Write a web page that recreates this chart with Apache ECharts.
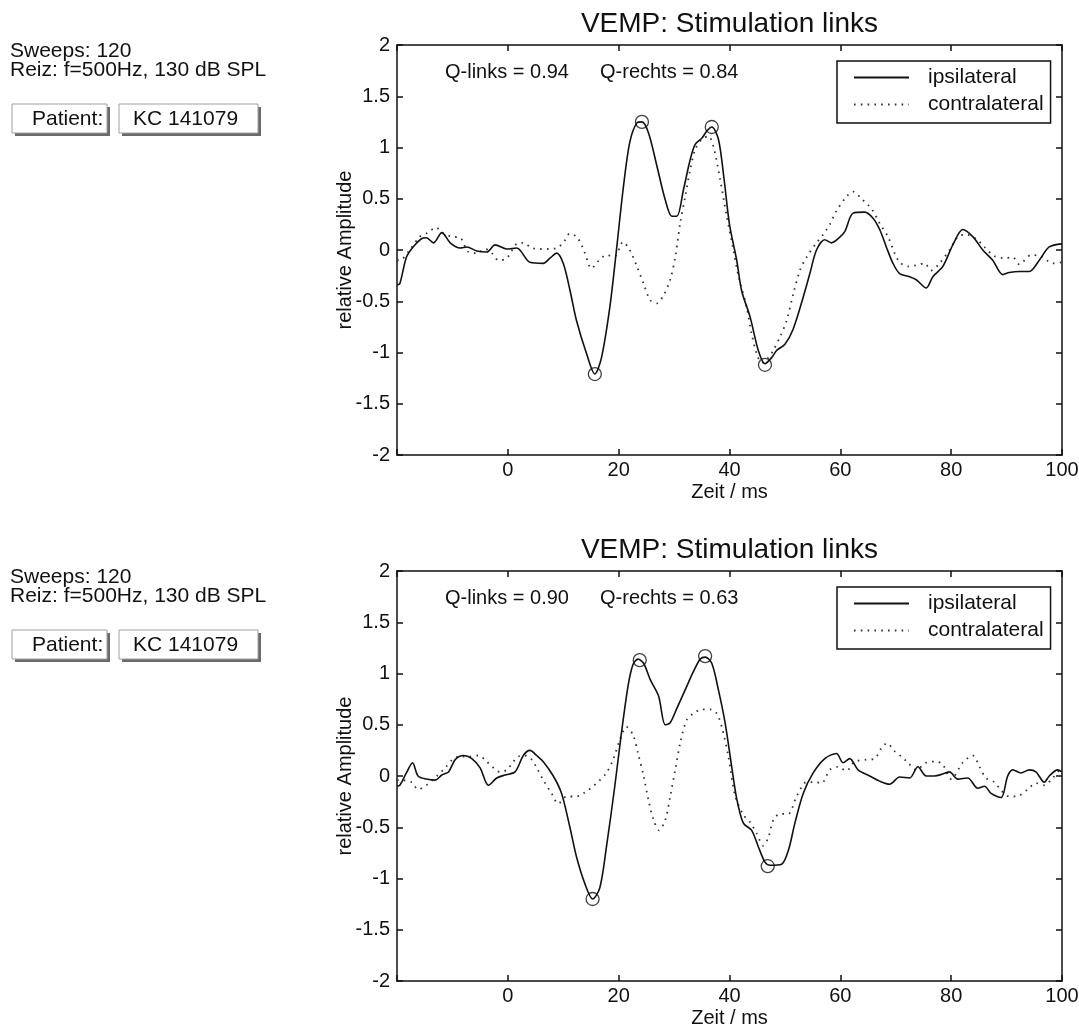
<!DOCTYPE html>
<html><head><meta charset="utf-8">
<script src="https://cdn.jsdelivr.net/npm/echarts@6/dist/echarts.min.js"></script>
<style>html,body{margin:0;padding:0;background:#fff;}#c{width:1079px;height:1030px;}</style>
</head><body><div id="c"></div>
<script>
// ---- data (x = Zeit / ms, y = relative Amplitude) ----
const topIpsi = [[-20,-0.34],[-19.5,-0.33],[-18.3,-0.07],[-17.1,0.03],[-15.6,0.11],[-14.7,0.12],[-13.4,0.07],[-11.9,0.17],[-10.4,0.07],[-8.6,0.02],[-7.4,0.03],[-5.6,-0.01],[-3.8,-0.02],[-2.3,0.05],[-0.2,0.01],[1.6,0.02],[4.0,-0.12],[6.4,-0.13],[7.6,-0.08],[8.8,-0.03],[10.0,-0.13],[11.2,-0.39],[12.4,-0.69],[14.2,-1.01],[15.7,-1.21],[16.9,-1.05],[18.4,-0.56],[19.6,0.0],[20.8,0.59],[22.0,1.05],[23.3,1.24],[24.2,1.25],[25.4,1.14],[26.9,0.82],[28.4,0.49],[29.6,0.33],[30.5,0.33],[31.7,0.59],[32.9,0.88],[33.8,1.03],[35.0,1.09],[35.9,1.16],[36.8,1.2],[38.0,1.08],[39.0,0.7],[40.0,0.25],[41.3,-0.1],[42.2,-0.4],[43.7,-0.65],[45.2,-0.98],[46.4,-1.11],[47.6,-1.05],[48.5,-0.98],[50.0,-0.92],[51.5,-0.77],[53.3,-0.46],[54.5,-0.23],[55.7,0.0],[57.2,0.1],[58.4,0.07],[59.6,0.11],[60.8,0.18],[62.3,0.36],[64.4,0.37],[65.9,0.31],[67.1,0.2],[68.3,0.03],[69.5,-0.13],[70.7,-0.23],[72.5,-0.26],[73.7,-0.29],[75.5,-0.37],[76.7,-0.26],[78.5,-0.16],[80.3,0.05],[82.1,0.2],[83.9,0.13],[85.7,0.0],[87.5,-0.1],[89.3,-0.24],[90.5,-0.22],[92.3,-0.21],[94.1,-0.21],[95.9,-0.1],[97.7,0.03],[100,0.06]];
const topContra = [[-20,-0.1],[-19.5,-0.1],[-17.7,0.0],[-15.9,0.13],[-14.4,0.17],[-13.0,0.22],[-11.6,0.16],[-10.1,0.13],[-8.6,0.12],[-7.1,-0.02],[-5.6,-0.03],[-4.1,0.01],[-2.9,-0.03],[-1.7,-0.1],[-0.2,-0.08],[1.6,0.06],[2.8,0.07],[4.3,0.02],[5.8,0.01],[7.3,0.01],[8.8,0.02],[10.0,0.07],[11.2,0.16],[12.4,0.13],[13.3,0.05],[13.9,-0.03],[15.1,-0.18],[16.3,-0.11],[17.8,-0.05],[19.3,-0.06],[20.8,0.08],[22.0,0.0],[23.3,-0.16],[24.5,-0.33],[25.7,-0.49],[26.9,-0.52],[28.1,-0.44],[29.3,-0.29],[30.2,-0.07],[31.1,0.26],[32.0,0.52],[32.9,0.78],[33.8,0.98],[35.0,1.08],[36.2,1.11],[37.1,1.01],[38.3,0.69],[39.5,0.33],[40.7,0.0],[41.6,-0.25],[43.1,-0.56],[44.0,-0.82],[44.9,-1.01],[45.8,-1.1],[47.0,-1.05],[47.9,-0.98],[49.1,-0.85],[50.3,-0.69],[51.5,-0.43],[52.7,-0.2],[53.9,-0.07],[55.7,0.07],[56.9,0.15],[58.1,0.25],[59.3,0.38],[61.1,0.52],[62.3,0.57],[63.8,0.5],[65.0,0.44],[65.9,0.38],[67.1,0.26],[68.6,0.13],[69.8,-0.03],[70.7,-0.12],[72.2,-0.16],[73.7,-0.15],[75.2,-0.13],[76.4,-0.2],[77.9,-0.13],[79.7,0.0],[81.2,0.13],[82.7,0.15],[84.5,0.11],[86.0,0.03],[87.8,-0.06],[89.6,-0.08],[91.1,-0.07],[92.3,-0.14],[94.4,-0.05],[96.2,-0.06],[98.3,-0.13],[100,-0.12]];
const topPeaks = [[15.7,-1.21],[24.2,1.25],[36.8,1.2],[46.4,-1.12]];

const botIpsi = [[-20,-0.1],[-19.5,-0.09],[-18.3,0.03],[-17.2,0.13],[-16.2,0.0],[-14.7,-0.03],[-13.1,-0.04],[-11.9,0.01],[-10.7,0.04],[-9.5,0.16],[-8.0,0.2],[-6.5,0.17],[-5.0,0.08],[-3.5,-0.09],[-2.0,-0.02],[-0.5,0.01],[1.3,0.04],[2.8,0.2],[4.0,0.25],[5.2,0.2],[6.4,0.14],[8.2,0.0],[9.7,-0.17],[11.2,-0.5],[12.4,-0.79],[13.9,-1.05],[15.3,-1.2],[16.6,-1.09],[17.8,-0.69],[19.3,-0.1],[20.5,0.42],[21.7,0.88],[22.6,1.09],[23.5,1.14],[24.5,1.1],[25.7,0.94],[27.2,0.78],[28.4,0.5],[29.3,0.52],[30.5,0.66],[32.0,0.84],[33.5,1.02],[34.7,1.14],[35.6,1.16],[36.8,1.1],[38.0,0.84],[39.2,0.52],[40.4,0.09],[41.3,-0.22],[42.5,-0.46],[44.0,-0.53],[45.2,-0.69],[46.4,-0.84],[47.3,-0.87],[49.4,-0.86],[50.6,-0.73],[51.8,-0.46],[53.3,-0.17],[55.1,0.03],[57.2,0.17],[59.3,0.22],[60.5,0.13],[61.7,0.17],[63.2,0.06],[65.3,0.0],[67.1,-0.05],[68.9,-0.08],[70.7,-0.01],[72.5,-0.02],[74.0,0.09],[75.5,0.0],[77.0,0.0],[78.5,0.02],[79.7,0.04],[81.2,-0.03],[83.0,-0.02],[84.8,-0.12],[86.0,-0.1],[87.2,-0.17],[89.0,-0.21],[90.2,0.0],[91.1,0.06],[92.6,0.03],[94.1,0.06],[95.3,0.04],[96.8,-0.06],[97.7,0.0],[99.2,0.06],[100,0.04]];
const botContra = [[-20,-0.04],[-19.5,-0.04],[-17.4,-0.06],[-16.2,-0.13],[-14.7,-0.09],[-12.8,0.0],[-11.3,0.08],[-9.8,0.17],[-8.3,0.19],[-6.8,0.19],[-5.3,0.2],[-3.8,0.14],[-2.6,0.08],[-1.4,0.04],[-0.2,0.06],[1.0,0.14],[1.9,0.19],[3.1,0.2],[4.3,0.16],[5.2,0.08],[6.4,-0.04],[7.9,-0.17],[9.1,-0.27],[10.6,-0.2],[12.4,-0.2],[13.9,-0.16],[15.4,-0.1],[16.6,-0.04],[17.8,0.03],[19.0,0.16],[20.2,0.35],[21.4,0.48],[22.6,0.4],[23.5,0.22],[24.5,0.0],[25.4,-0.24],[26.3,-0.43],[27.3,-0.53],[28.4,-0.43],[29.3,-0.2],[30.2,0.06],[31.1,0.32],[32.3,0.55],[33.5,0.61],[35.0,0.65],[36.5,0.65],[37.7,0.61],[38.6,0.48],[39.8,0.19],[41.0,-0.19],[42.5,-0.38],[43.7,-0.45],[44.9,-0.56],[46.1,-0.68],[47.0,-0.6],[47.9,-0.43],[49.1,-0.37],[50.6,-0.37],[52.1,-0.2],[53.9,-0.06],[55.4,-0.06],[56.6,-0.07],[58.1,0.06],[59.6,0.09],[61.1,0.05],[62.6,0.14],[64.7,0.16],[66.2,0.17],[67.4,0.27],[68.4,0.32],[69.8,0.24],[71.0,0.19],[72.2,0.13],[73.7,0.06],[75.5,0.13],[77.3,0.14],[78.5,0.11],[80.0,-0.03],[82.1,0.13],[83.9,0.2],[85.1,0.09],[86.3,-0.02],[87.8,-0.06],[89.0,-0.14],[90.5,-0.2],[92.3,-0.19],[93.8,-0.13],[95.3,-0.07],[96.8,-0.09],[98.3,-0.02],[100,0.09]];
const botPeaks = [[15.3,-1.2],[23.8,1.13],[35.6,1.17],[46.9,-0.88]];

const legendNames = ['ipsilateral', 'contralateral'];
const titleText = 'VEMP: Stimulation links';
const qTop = ['Q-links = 0.94', 'Q-rechts = 0.84'];
const qBot = ['Q-links = 0.90', 'Q-rechts = 0.63'];
const infoLines = ['Sweeps: 120', 'Reiz: f=500Hz, 130 dB SPL'];
const patientLabels = ['Patient:', 'KC 141079'];

// ---- layout ----
const FONT = '"Liberation Sans", Arial, Helvetica, sans-serif';
const INK = '#111';
const panels = [
  {off: 0, ipsi: topIpsi, contra: topContra, peaks: topPeaks, q: qTop},
  {off: 526, ipsi: botIpsi, contra: botContra, peaks: botPeaks, q: qBot}
];
const grids = [], xAxes = [], yAxes = [], series = [], legends = [], graphics = [];
const axisLine = {show: true, onZero: false, lineStyle: {color: INK, width: 1.5}};
const axisTick = {show: true, inside: true, length: 6, lineStyle: {color: INK, width: 1.5}};

panels.forEach((p, i) => {
  grids.push({left: 397, top: 45 + p.off, width: 665, height: 410, show: false, outerBoundsMode: 'none'});
  xAxes.push({type: 'value', gridIndex: i, position: 'bottom', min: -20, max: 100, interval: 20,
    axisLine, axisTick, splitLine: {show: false},
    axisLabel: {color: INK, fontSize: 20, fontFamily: FONT, margin: 5, showMinLabel: true, showMaxLabel: true,
      formatter: v => v === -20 ? '' : String(v)},
    name: 'Zeit / ms', nameLocation: 'middle', nameGap: 27,
    nameTextStyle: {color: INK, fontSize: 20, fontFamily: FONT}});
  xAxes.push({type: 'value', gridIndex: i, position: 'top', min: -20, max: 100, interval: 20,
    axisLine, axisTick, splitLine: {show: false}, axisLabel: {show: false}});
  yAxes.push({type: 'value', gridIndex: i, position: 'left', min: -2, max: 2, interval: 0.5,
    axisLine, axisTick, splitLine: {show: false},
    axisLabel: {color: INK, fontSize: 20, fontFamily: FONT, margin: 7, showMinLabel: true, showMaxLabel: true,
      formatter: v => String(v)},
    name: 'relative Amplitude', nameLocation: 'middle', nameRotate: 90, nameGap: 42, nameMoveOverlap: false,
    nameTextStyle: {color: INK, fontSize: 20, fontFamily: FONT}});
  yAxes.push({type: 'value', gridIndex: i, position: 'right', min: -2, max: 2, interval: 0.5,
    axisLine, axisTick, splitLine: {show: false}, axisLabel: {show: false}});

  series.push({name: legendNames[0], type: 'line', xAxisIndex: 2 * i, yAxisIndex: 2 * i, data: p.ipsi,
    symbol: 'none', smooth: 0.3, lineStyle: {color: INK, width: 1.6}, itemStyle: {color: INK}, z: 3, silent: true});
  series.push({name: legendNames[1], type: 'line', xAxisIndex: 2 * i, yAxisIndex: 2 * i, data: p.contra,
    symbol: 'none', smooth: 0.3, lineStyle: {color: '#333', width: 1.8, type: [1.6, 5.2]}, itemStyle: {color: '#333'}, z: 2, silent: true});
  series.push({name: 'peaks', type: 'scatter', xAxisIndex: 2 * i, yAxisIndex: 2 * i, data: p.peaks,
    symbol: 'circle', symbolSize: 13, itemStyle: {color: 'rgba(0,0,0,0)', borderColor: INK, borderWidth: 1.3}, z: 4, silent: true});

  legends.push({data: legendNames, orient: 'vertical', left: 837, top: 61 + p.off,
    itemWidth: 55, itemHeight: 20, itemGap: 6, padding: [6, 7, 8, 16],
    borderColor: INK, borderWidth: 1.5, borderRadius: 0, backgroundColor: '#fff', selectedMode: false,
    itemStyle: {color: 'rgba(0,0,0,0)', borderWidth: 0, opacity: 0},
    textStyle: {color: INK, fontSize: 21, fontFamily: FONT, padding: [0, 0, 0, 14]}});

  // title
  graphics.push({type: 'text', x: 729.5, y: 24 + p.off, silent: true,
    style: {text: titleText, fill: INK, font: '28px ' + FONT, textAlign: 'center', textVerticalAlign: 'middle'}});
  // Q values
  graphics.push({type: 'text', x: 445, y: 72 + p.off, silent: true,
    style: {text: p.q[0], fill: INK, font: '20px ' + FONT, textAlign: 'left', textVerticalAlign: 'middle'}});
  graphics.push({type: 'text', x: 600, y: 72 + p.off, silent: true,
    style: {text: p.q[1], fill: INK, font: '20px ' + FONT, textAlign: 'left', textVerticalAlign: 'middle'}});
  // info text
  graphics.push({type: 'text', x: 10, y: 51 + p.off, silent: true,
    style: {text: infoLines[0], fill: INK, font: '21px ' + FONT, textAlign: 'left', textVerticalAlign: 'middle'}});
  graphics.push({type: 'text', x: 10, y: 70 + p.off, silent: true,
    style: {text: infoLines[1], fill: INK, font: '21px ' + FONT, textAlign: 'left', textVerticalAlign: 'middle'}});
  // patient boxes
  const boxes = [{x: 12, w: 95, tx: 32}, {x: 119, w: 139, tx: 133}];
  boxes.forEach((b, k) => {
    graphics.push({type: 'rect', silent: true, shape: {x: b.x + 3, y: 107 + p.off, width: b.w, height: 29},
      style: {fill: '#6a6a6a'}});
    graphics.push({type: 'rect', silent: true, shape: {x: b.x, y: 104 + p.off, width: b.w, height: 29},
      style: {fill: '#fff', stroke: '#a0a0a0', lineWidth: 1}});
    graphics.push({type: 'text', x: b.tx, y: 119 + p.off, silent: true,
      style: {text: patientLabels[k], fill: INK, font: '21px ' + FONT, textAlign: 'left', textVerticalAlign: 'middle'}});
  });
});

const chart = echarts.init(document.getElementById('c'), null, {renderer: 'canvas'});
chart.setOption({
  animation: false,
  backgroundColor: '#fff',
  grid: grids, xAxis: xAxes, yAxis: yAxes, series, legend: legends, graphic: graphics
});
</script></body></html>
